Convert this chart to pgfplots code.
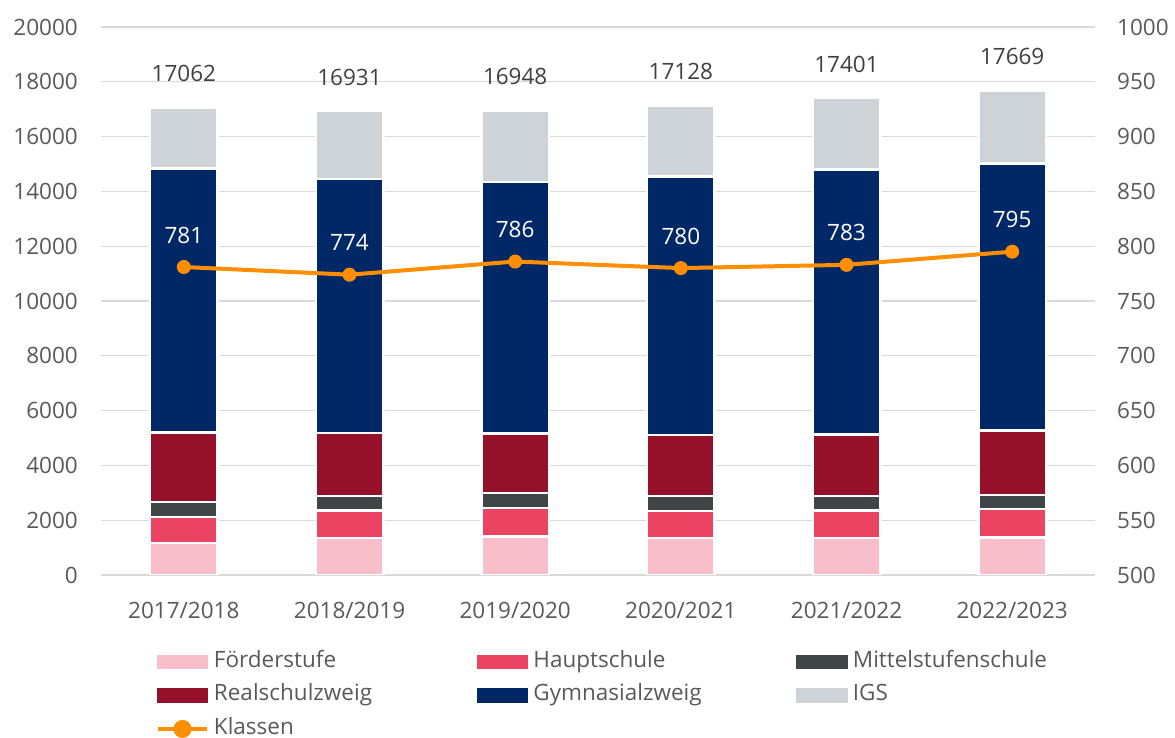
\documentclass[border=0pt]{standalone}
\usepackage{fontspec}
\setmainfont{Open Sans}
\usepackage{pgfplots}
\pgfplotsset{compat=1.18}
\usepackage{pgfplotstable}
\definecolor{cFoe}{HTML}{F8BFCB}
\definecolor{cHaupt}{HTML}{EB4463}
\definecolor{cMit}{HTML}{404548}
\definecolor{cReal}{HTML}{951129}
\definecolor{cGym}{HTML}{002866}
\definecolor{cIGS}{HTML}{CED3D7}
\definecolor{cOr}{HTML}{FF8F00}
\definecolor{cTxt}{HTML}{595959}
\definecolor{cTot}{HTML}{404040}
\definecolor{cGrid}{HTML}{D9D9D9}

\pgfplotstableread{
x Foe Haupt Mit Real Gym IGS Total Klassen
0 1170 940 560 2534 9630 2229 17062 781
1 1342 1009 526 2303 9274 2477 16931 774
2 1400 1050 537 2179 9178 2604 16948 786
3 1342 987 548 2231 9433 2587 17128 780
4 1342 1009 537 2241 9668 2604 17401 783
5 1364 1038 512 2351 9751 2653 17669 795
}\data

\newcommand{\lf}{\fontsize{22.5}{27}\selectfont}

\pgfplotsset{
  /pgf/number format/1000 sep={},
  /pgf/number format/assume math mode=true,
  mybar/.style={fill=#1, draw=white, line width=2.5pt,
    legend image code/.code={\fill[#1] (0pt,-6pt) rectangle (49pt,6pt);}},
  klassenlegend/.style={legend image code/.code={%
    \draw[##1] (0pt,0pt) -- (49pt,0pt);
    \fill[cOr] (24.5pt,0pt) circle (7pt);}},
  base/.style={at={(0pt,0pt)}, anchor=south west,
    scale only axis, width=994pt, height=548pt,
    xmin=-0.5, xmax=5.5,
    axis line style={draw=none}, tick style={draw=none},
    tick label style={font=\lf, text=cTxt}},
}

\begin{document}
\begin{tikzpicture}[font=\lf, text=cTxt]
\useasboundingbox (-101pt,-163pt) rectangle (1074pt,575pt);
\begin{axis}[
  base,
  ymin=0, ymax=20000,
  ybar stacked, bar width=67.5pt,
  xtick=data,
  xticklabels={2017/2018,2018/2019,2019/2020,2020/2021,2021/2022,2022/2023},
  ytick={0,2000,...,20000},
  scaled y ticks=false,
  ymajorgrids, grid style={cGrid, line width=1.3pt},
  yticklabel style={inner sep=0pt, xshift=-23pt},
  xticklabel style={anchor=center, yshift=-35pt},
  legend columns=3,
  legend cell align=left,
  legend style={at={(0.0553,-0.1395)}, anchor=north west, draw=none, fill=none,
    inner sep=0pt, outer sep=0pt, row sep=12.5pt, font=\lf, text=cTxt,
    /tikz/every odd column/.append style={column sep=5pt},
    nodes={inner sep=0pt, text height=16pt, text depth=5pt}},
]
\addplot[mybar=cFoe] table[x=x,y=Foe]{\data};
\addlegendentry{\makebox[263pt][l]{Förderstufe}}
\addplot[mybar=cHaupt] table[x=x,y=Haupt]{\data};
\addlegendentry{\makebox[263pt][l]{Hauptschule}}
\addplot[mybar=cMit] table[x=x,y=Mit]{\data};
\addlegendentry{\makebox[263pt][l]{Mittelstufenschule}}
\addplot[mybar=cReal] table[x=x,y=Real]{\data};
\addlegendentry{\makebox[263pt][l]{Realschulzweig}}
\addplot[mybar=cGym] table[x=x,y=Gym]{\data};
\addlegendentry{\makebox[263pt][l]{Gymnasialzweig}}
\addplot[mybar=cIGS] table[x=x,y=IGS]{\data};
\addlegendentry{\makebox[263pt][l]{IGS}}
\addlegendimage{klassenlegend, cOr, line width=4pt}
\addlegendentry{\makebox[263pt][l]{Klassen}}
\end{axis}
\begin{axis}[
  base, ymin=0, ymax=20000, hide axis,
]
\addplot[draw=none, mark=none, nodes near coords, point meta=explicit symbolic,
  every node near coord/.append style={anchor=center, yshift=34pt, font=\lf, text=cTot}]
  table[x=x,y=Total,meta=Total]{\data};
\end{axis}
\begin{axis}[
  base, ymin=500, ymax=1000,
  axis y line*=right, axis x line=none,
  ytick={500,550,...,1000},
  yticklabel style={inner sep=0pt, xshift=22pt},
]
\addplot[cOr, line width=4pt, mark=*, mark size=6.5pt,
  mark options={fill=cOr, draw=cOr, line width=1pt},
  nodes near coords,
  every node near coord/.append style={anchor=center, yshift=32pt, font=\lf, text=white}]
  table[x=x,y=Klassen]{\data};
\end{axis}
\end{tikzpicture}
\end{document}
